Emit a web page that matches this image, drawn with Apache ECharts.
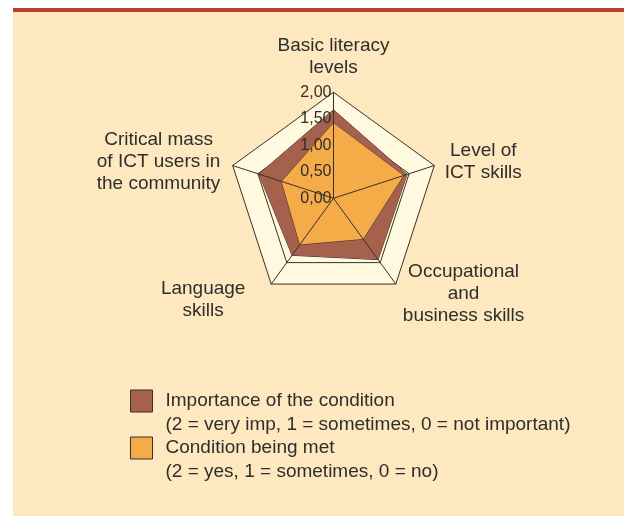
<!DOCTYPE html>
<html>
<head>
<meta charset="utf-8">
<script src="https://cdn.jsdelivr.net/npm/echarts@6/dist/echarts.min.js"></script>
<style>
  html, body { margin: 0; padding: 0; background: #ffffff; }
  #chart { width: 624px; height: 516px; }
</style>
</head>
<body>
<div id="chart"></div>
<script>
// Indicators, counterclockwise from the top (ECharts radar order)
var categories = ['Basic literacy\nlevels', 'Critical mass\nof ICT users in\nthe community', 'Language\nskills', 'Occupational\nand\nbusiness skills', 'Level of\nICT skills'];
var importance = [1.67, 1.48, 1.33, 1.43, 1.46];
var conditionMet = [1.42, 1.03, 1.08, 0.95, 1.39];
var seriesNames = ['Importance of the condition', 'Condition being met'];
var seriesNotes = ['(2 = very imp, 1 = sometimes, 0 = not important)', '(2 = yes, 1 = sometimes, 0 = no)'];
var axisMax = 2;

var FONT = '"Liberation Sans", Arial, Helvetica, sans-serif';
var TEXT = '#2e2e2e';
var LINE = '#3a3029';
var BROWN = '#a5614b';
var ORANGE = '#f4ab48';

// per-indicator name placement
var nameGaps = [14, 13, 20, 12, 11];
var namePads = [[0, 0, 0, 0], [0, 0, 0, 0], [0, 14, 0, 0], [0, 0, 0, 0], [0, 0, 0, 0]];

var baseIndicators = categories.map(function (c, i) {
  return { name: c, min: 0, max: axisMax, nameGap: nameGaps[i], nameTextStyle: { padding: namePads[i] } };
});
var overlayIndicators = categories.map(function (c, i) {
  var ind = { name: c, min: 0, max: axisMax };
  if (i === 0) {
    ind.axisLabel = {
      show: true,
      fontSize: 16,
      fontFamily: FONT,
      color: TEXT,
      margin: 2,
      padding: [4, 0, 0, 0],
      formatter: function (v) { return v.toFixed(2).replace('.', ','); }
    };
  }
  return ind;
});

var myChart = echarts.init(document.getElementById('chart'));

var option = {
  animation: false,
  textStyle: { fontFamily: FONT },
  graphic: [
    { type: 'rect', z: -10, shape: { x: 13, y: 12, width: 611, height: 504 }, style: { fill: '#fee8c0' } },
    { type: 'rect', z: -10, shape: { x: 13, y: 8, width: 611, height: 4 }, style: { fill: '#b8402d' } }
  ],
  legend: {
    orient: 'vertical',
    left: 130,
    top: 365,
    padding: 0,
    itemGap: -25,
    itemWidth: 22,
    itemHeight: 22,
    icon: 'rect',
    selectedMode: false,
    data: [
      { name: seriesNames[0], itemStyle: { color: BROWN, borderColor: LINE, borderWidth: 1 } },
      { name: seriesNames[1], itemStyle: { color: ORANGE, borderColor: LINE, borderWidth: 1 } }
    ],
    // blank first line so the series name sits level with the swatch
    formatter: function (name) {
      return ' \n' + name + '\n' + seriesNotes[seriesNames.indexOf(name)];
    },
    textStyle: {
      fontSize: 19,
      lineHeight: 24,
      color: TEXT,
      fontFamily: FONT,
      padding: [0, 0, 0, 8]
    }
  },
  radar: [
    {
      // grid, shading and names, under the series
      center: [333.5, 198.3],
      radius: 106,
      startAngle: 90,
      splitNumber: 4,
      shape: 'polygon',
      z: 0,
      indicator: baseIndicators,
      axisNameGap: 14,
      axisName: {
        color: TEXT,
        fontSize: 19,
        lineHeight: 22,
        fontFamily: FONT,
        formatter: function (name) {
          return name.split('\n').map(function (s) { return '{c|' + s + '}'; }).join('\n');
        },
        rich: { c: { align: 'center' } }
      },
      axisLine: { show: false },
      axisTick: { show: false },
      axisLabel: { show: false },
      splitLine: { lineStyle: { color: LINE, width: 1 } },
      splitArea: { show: true, areaStyle: { color: ['#fffadf'] } }
    },
    {
      // spokes and tick labels, drawn over the series
      center: [333.5, 198.3],
      radius: 106,
      startAngle: 90,
      splitNumber: 4,
      shape: 'polygon',
      z: 5,
      indicator: overlayIndicators,
      axisName: { show: false },
      axisLine: { show: true, lineStyle: { color: LINE, width: 1 } },
      axisTick: { show: false },
      axisLabel: { show: false },
      splitLine: { show: false },
      splitArea: { show: false }
    }
  ],
  series: [
    {
      type: 'radar',
      radarIndex: 0,
      symbol: 'none',
      silent: true,
      data: [
        {
          name: seriesNames[0],
          value: importance,
          itemStyle: { color: BROWN },
          lineStyle: { color: LINE, width: 1 },
          areaStyle: { color: BROWN, opacity: 1 }
        },
        {
          name: seriesNames[1],
          value: conditionMet,
          itemStyle: { color: ORANGE },
          lineStyle: { color: LINE, width: 1 },
          areaStyle: { color: ORANGE, opacity: 1 }
        }
      ]
    }
  ]
};

myChart.setOption(option);
</script>
</body>
</html>
